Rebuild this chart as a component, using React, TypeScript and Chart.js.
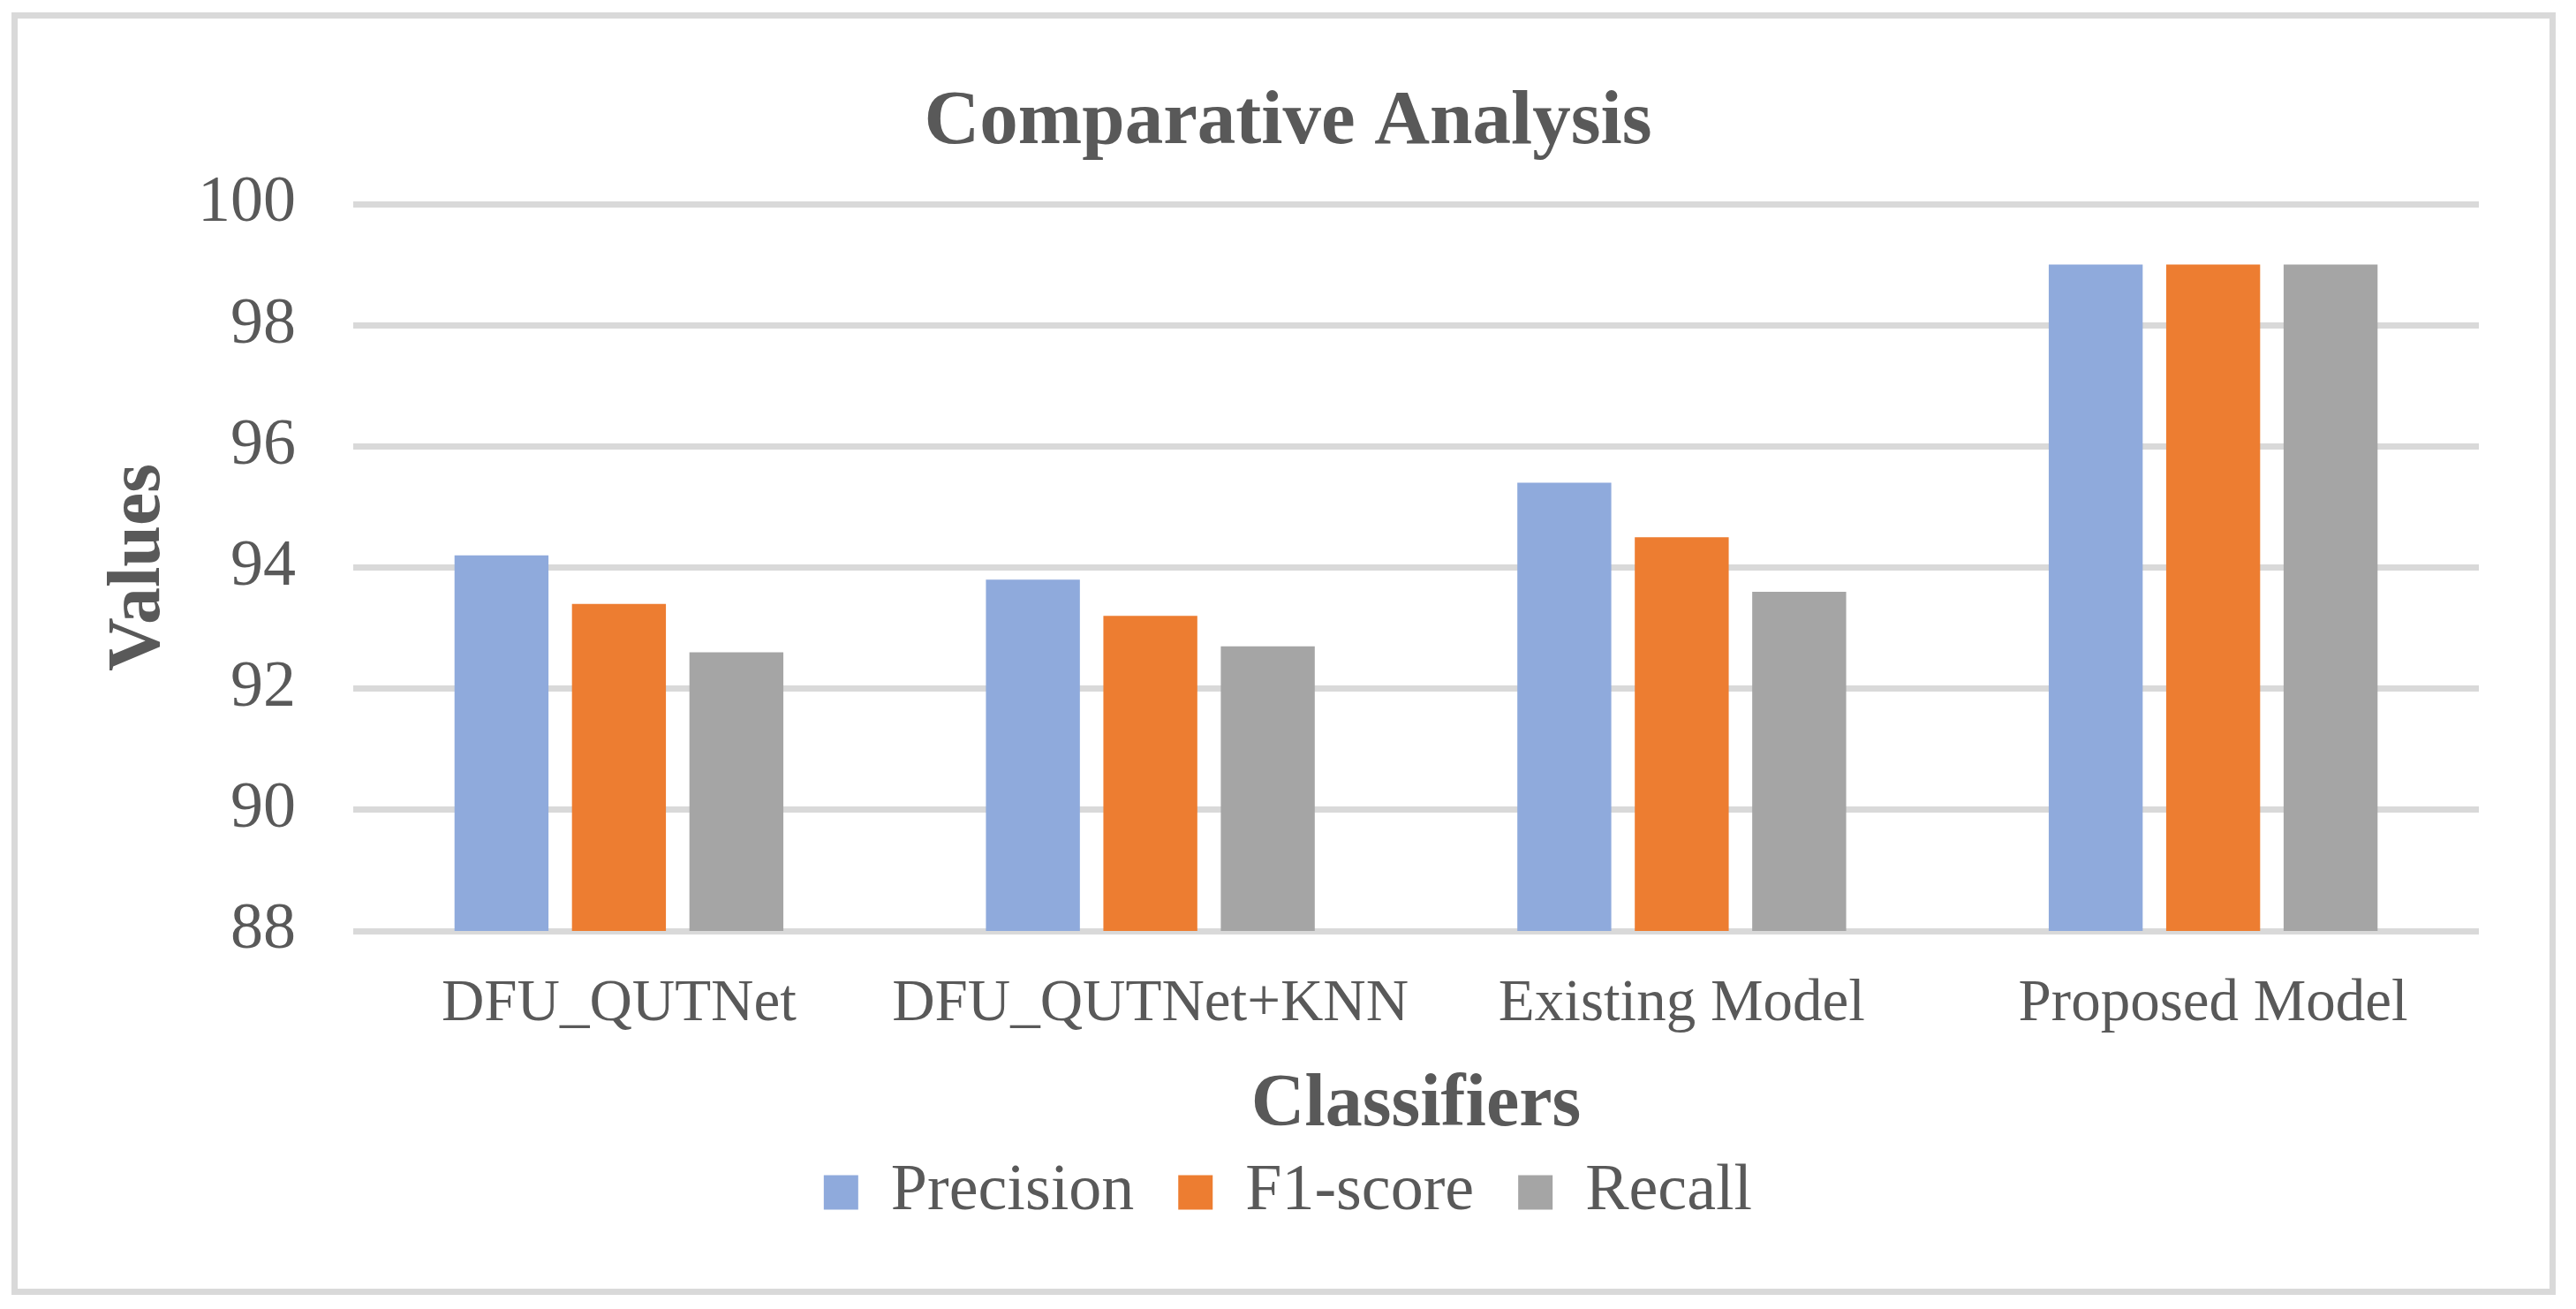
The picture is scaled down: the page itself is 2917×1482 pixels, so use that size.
import React, { useEffect, useRef } from "react";
import { Chart, registerables } from "chart.js";

Chart.register(...registerables);

const categories = ["DFU_QUTNet", "DFU_QUTNet+KNN", "Existing Model", "Proposed Model"];
const seriesNames = ["Precision", "F1-score", "Recall"];
const precision = [94.2, 93.8, 95.4, 99.0];
const f1score = [93.4, 93.2, 94.5, 99.0];
const recall = [92.6, 92.7, 93.6, 99.0];
const yTicks = [88, 90, 92, 94, 96, 98, 100];
const seriesColors = ["#8faadc", "#ed7d31", "#a5a5a5"];

const TEXT = "#595959";
const GRID = "#d9d9d9";
const FONT = "'Liberation Serif', 'Times New Roman', serif";

const borderPlugin = {
  id: "outerBorder",
  beforeDraw(chart: any) {
    const ctx = chart.ctx;
    ctx.save();
    ctx.fillStyle = "#ffffff";
    ctx.fillRect(0, 0, chart.width, chart.height);
    ctx.strokeStyle = GRID;
    ctx.lineWidth = 7;
    ctx.strokeRect(16.5, 17.5, 2874, 1445);
    ctx.restore();
  },
};

export default function App() {
  const ref = useRef<HTMLCanvasElement | null>(null);

  useEffect(() => {
    if (!ref.current) return;
    const values = [precision, f1score, recall];
    const chart = new Chart(ref.current, {
      type: "bar",
      data: {
        labels: categories,
        datasets: seriesNames.map((name, i) => ({
          label: name,
          data: values[i],
          backgroundColor: seriesColors[i],
          borderWidth: 0,
          categoryPercentage: 0.663,
          barPercentage: 0.8,
        })),
      },
      options: {
        animation: false,
        responsive: false,
        devicePixelRatio: 1,
        layout: { padding: { left: 110, right: 110, top: 0, bottom: 85 } },
        plugins: {
          tooltip: { enabled: false },
          title: {
            display: true,
            text: "Comparative Analysis",
            color: TEXT,
            font: { family: FONT, size: 87, weight: "bold" },
            padding: { top: 87.8, bottom: 38.8 },
          },
          legend: {
            display: true,
            position: "bottom",
            labels: {
              color: TEXT,
              font: { family: FONT, size: 74 },
              boxWidth: 39,
              boxHeight: 39,
              padding: 50,
            },
          },
        },
        scales: {
          x: {
            grid: { display: false, drawTicks: false },
            border: { display: false },
            ticks: {
              color: TEXT,
              font: { family: FONT, size: 67 },
              padding: 43,
              maxRotation: 0,
              autoSkip: false,
            },
            title: {
              display: true,
              text: "Classifiers",
              color: TEXT,
              font: { family: FONT, size: 84, weight: "bold" },
              padding: { top: 0, bottom: -39.4 },
            },
            afterFit(scale: any) {
              scale.height = 209;
            },
          },
          y: {
            min: yTicks[0],
            max: yTicks[yTicks.length - 1],
            grid: { color: GRID, lineWidth: 7, drawTicks: false },
            border: { display: false },
            ticks: {
              stepSize: yTicks[1] - yTicks[0],
              color: TEXT,
              font: { family: FONT, size: 74 },
              padding: 65,
            },
            title: {
              display: true,
              text: "Values",
              color: TEXT,
              font: { family: FONT, size: 84, weight: "bold" },
              padding: { top: -2.4, bottom: 0 },
            },
            afterFit(scale: any) {
              scale.width = 290;
            },
          },
        },
      },
      plugins: [borderPlugin],
    });
    return () => chart.destroy();
  }, []);

  return (
    <div style={{ position: "fixed", left: 0, top: 0, width: 2917, height: 1482, background: "#fff" }}>
      <canvas ref={ref} width={2917} height={1482} style={{ display: "block", width: 2917, height: 1482 }} />
    </div>
  );
}
